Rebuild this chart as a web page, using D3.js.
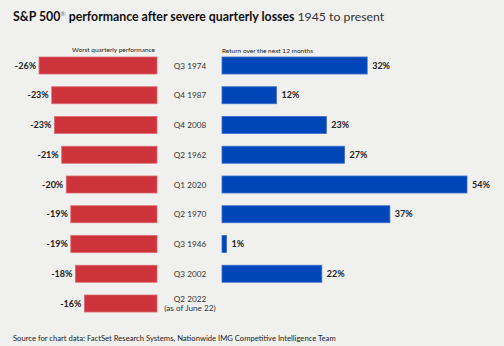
<!DOCTYPE html>
<html>
<head>
<meta charset="utf-8">
<script src="https://cdn.jsdelivr.net/npm/d3@7"></script>
<style>
  html, body { margin: 0; padding: 0; background: #f0f0ee; }
  svg { display: block; }
</style>
</head>
<body>
<svg id="chart" width="504" height="346"></svg>
<script>
// données du graphique
const quarters = ['Q3 1974', 'Q4 1987', 'Q4 2008', 'Q2 1962', 'Q1 2020', 'Q2 1970', 'Q3 1946', 'Q3 2002', 'Q2 2022'];
const worstQuarter = [-26, -23.2, -22.6, -21, -20, -19, -19, -18, -16];
const worstLabels = ['-26%', '-23%', '-23%', '-21%', '-20%', '-19%', '-19%', '-18%', '-16%'];
const nextYear = [32, 12, 23, 27, 54, 37, 1, 22, null];
const nextLabels = ['32%', '12%', '23%', '27%', '54%', '37%', '1%', '22%', ''];

const svg = d3.select('#chart');
const font = 'Lato, "Open Sans", sans-serif';

// échelles
const longueur = d3.scaleLinear().domain([0, 54]).range([0, 245]);
const y = d3.scalePoint().domain(quarters).range([65.5, 303.5]);
const hauteur = 17;
const bordRouge = 157;
const bordBleu = 222;

// titre
const titre = svg.append('text')
    .attr('x', 13).attr('y', 21)
    .attr('font-family', font)
    .attr('font-size', 12.3)
    .attr('fill', '#111');
titre.append('tspan').attr('font-weight', 700).text('S&P 500');
titre.append('tspan').attr('font-size', 6.5).attr('dy', -5).attr('fill', '#777').text('®');
titre.append('tspan').attr('dy', 5).attr('font-weight', 700).text(' performance after severe quarterly losses ');
titre.append('tspan').attr('font-weight', 400).attr('fill', '#333').text('1945 to present');

// en-têtes de colonnes
svg.append('text')
    .attr('x', 155).attr('y', 52)
    .attr('text-anchor', 'end')
    .attr('font-family', font).attr('font-size', 6.5).attr('fill', '#222')
    .text('Worst quarterly performance');
svg.append('text')
    .attr('x', bordBleu).attr('y', 53)
    .attr('font-family', font).attr('font-size', 6.5).attr('fill', '#222')
    .text('Return over the next 12 months');

// barres rouges
svg.selectAll('.rouge')
    .data(worstQuarter)
    .join('rect')
    .attr('class', 'rouge')
    .attr('x', d => bordRouge - longueur(-d))
    .attr('y', (d, i) => y(quarters[i]) - hauteur / 2)
    .attr('width', d => longueur(-d))
    .attr('height', hauteur)
    .attr('fill', '#cc333b')
    .attr('stroke', '#dd6a70')
    .attr('stroke-width', 0.8);

svg.selectAll('.etiq-rouge')
    .data(worstQuarter)
    .join('text')
    .attr('x', d => bordRouge - longueur(-d) - 3)
    .attr('y', (d, i) => y(quarters[i]) + 3)
    .attr('text-anchor', 'end')
    .attr('font-family', font).attr('font-weight', 700).attr('font-size', 9)
    .attr('fill', '#222')
    .text((d, i) => worstLabels[i]);

// barres bleues
const bleu = nextYear.map((v, i) => ({ v, i })).filter(d => d.v !== null);
svg.selectAll('.bleue')
    .data(bleu)
    .join('rect')
    .attr('class', 'bleue')
    .attr('x', bordBleu)
    .attr('y', d => y(quarters[d.i]) - hauteur / 2)
    .attr('width', d => longueur(d.v))
    .attr('height', hauteur)
    .attr('fill', '#0046b8')
    .attr('stroke', '#3a6ccc')
    .attr('stroke-width', 0.8);

svg.selectAll('.etiq-bleue')
    .data(bleu)
    .join('text')
    .attr('x', d => bordBleu + longueur(d.v) + 5)
    .attr('y', d => y(quarters[d.i]) + 3)
    .attr('font-family', font).attr('font-weight', 700).attr('font-size', 9)
    .attr('fill', '#222')
    .text(d => nextLabels[d.i]);

// trimestres au centre
quarters.forEach((q, i) => {
    const t = svg.append('text')
        .attr('x', 190)
        .attr('text-anchor', 'middle')
        .attr('font-family', font).attr('font-size', 8.2)
        .attr('fill', '#333');
    if (i === quarters.length - 1) {
        t.attr('y', y(q) - 1.5);
        t.append('tspan').attr('x', 190).text(q);
        t.append('tspan').attr('x', 190).attr('dy', 9).text('(as of June 22)');
    } else {
        t.attr('y', y(q) + 3).text(q);
    }
});

// source
svg.append('text')
    .attr('x', 13).attr('y', 341)
    .attr('font-family', font).attr('font-size', 7.65)
    .attr('fill', '#222')
    .text('Source for chart data: FactSet Research Systems, Nationwide IMG Competitive Intelligence Team');
</script>
</body>
</html>
